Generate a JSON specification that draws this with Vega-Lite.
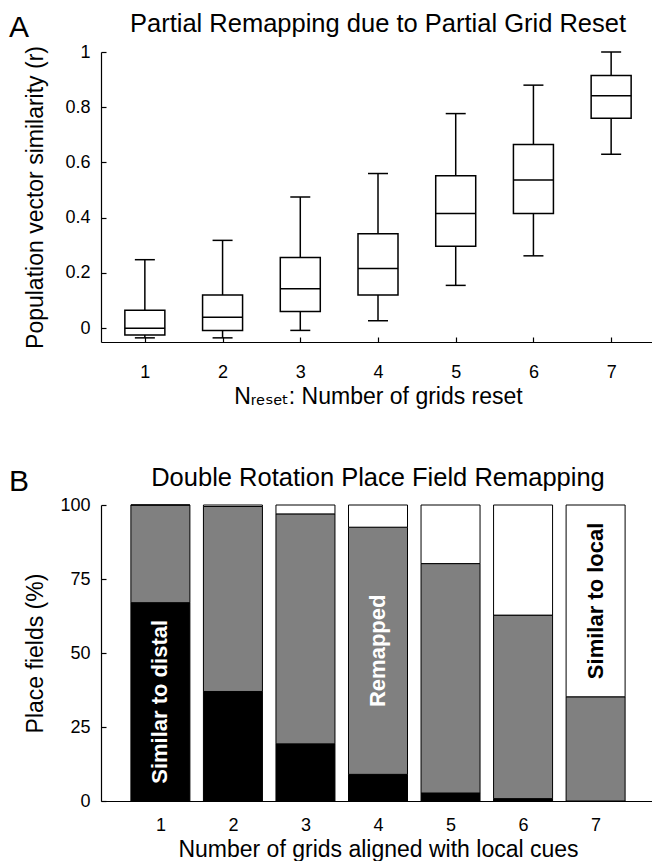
{
  "$schema": "https://vega.github.io/schema/vega-lite/v6.json",
  "padding": {"left": 8, "top": 11, "right": 0, "bottom": 0},
  "config": {
    "font": "Liberation Sans",
    "view": {"stroke": null},
    "axis": {
      "grid": false,
      "domainColor": "black",
      "domainWidth": 1.2,
      "tickColor": "black",
      "tickWidth": 1.2,
      "tickSize": -5,
      "labelColor": "black",
      "labelFont": "Liberation Sans",
      "labelFontSize": 18,
      "titleColor": "black",
      "titleFont": "Liberation Sans, DejaVu Sans",
      "titleFontSize": 23,
      "titleFontWeight": "normal"
    },
    "title": {"font": "Liberation Sans", "fontWeight": "normal", "color": "black", "fontSize": 25.5, "baseline": "bottom"}
  },
  "spacing": 57,
  "datasets": {
    "boxes": [
      {"n": 1, "lower": -0.035, "q1": -0.025, "median": 0.0, "q3": 0.065, "upper": 0.248},
      {"n": 2, "lower": -0.035, "q1": -0.008, "median": 0.04, "q3": 0.12, "upper": 0.318},
      {"n": 3, "lower": -0.008, "q1": 0.06, "median": 0.143, "q3": 0.256, "upper": 0.475},
      {"n": 4, "lower": 0.027, "q1": 0.12, "median": 0.216, "q3": 0.342, "upper": 0.56},
      {"n": 5, "lower": 0.155, "q1": 0.297, "median": 0.415, "q3": 0.552, "upper": 0.777},
      {"n": 6, "lower": 0.262, "q1": 0.415, "median": 0.537, "q3": 0.665, "upper": 0.88},
      {"n": 7, "lower": 0.63, "q1": 0.76, "median": 0.842, "q3": 0.915, "upper": 1.0}
    ],
    "bars": [
      {"n": 1, "outcome": "distal", "seg": 1, "pct": 67, "label": "Similar to distal"},
      {"n": 1, "outcome": "remapped", "seg": 2, "pct": 33, "label": ""},
      {"n": 1, "outcome": "local", "seg": 3, "pct": 0, "label": ""},
      {"n": 2, "outcome": "distal", "seg": 1, "pct": 37, "label": ""},
      {"n": 2, "outcome": "remapped", "seg": 2, "pct": 62.5, "label": ""},
      {"n": 2, "outcome": "local", "seg": 3, "pct": 0.5, "label": ""},
      {"n": 3, "outcome": "distal", "seg": 1, "pct": 19.3, "label": ""},
      {"n": 3, "outcome": "remapped", "seg": 2, "pct": 77.7, "label": ""},
      {"n": 3, "outcome": "local", "seg": 3, "pct": 3, "label": ""},
      {"n": 4, "outcome": "distal", "seg": 1, "pct": 9, "label": ""},
      {"n": 4, "outcome": "remapped", "seg": 2, "pct": 83.5, "label": "Remapped"},
      {"n": 4, "outcome": "local", "seg": 3, "pct": 7.5, "label": ""},
      {"n": 5, "outcome": "distal", "seg": 1, "pct": 2.7, "label": ""},
      {"n": 5, "outcome": "remapped", "seg": 2, "pct": 77.5, "label": ""},
      {"n": 5, "outcome": "local", "seg": 3, "pct": 19.8, "label": ""},
      {"n": 6, "outcome": "distal", "seg": 1, "pct": 0.8, "label": ""},
      {"n": 6, "outcome": "remapped", "seg": 2, "pct": 62, "label": ""},
      {"n": 6, "outcome": "local", "seg": 3, "pct": 37.2, "label": ""},
      {"n": 7, "outcome": "distal", "seg": 1, "pct": 0, "label": ""},
      {"n": 7, "outcome": "remapped", "seg": 2, "pct": 35.2, "label": ""},
      {"n": 7, "outcome": "local", "seg": 3, "pct": 64.8, "label": "Similar to local"}
    ]
  },
  "vconcat": [
    {
      "title": {"text": "A", "anchor": "start", "frame": "bounds", "fontSize": 30, "dx": -16, "dy": 35},
      "vconcat": [
        {
          "width": 554,
          "height": 290,
          "title": {"text": "Partial Remapping due to Partial Grid Reset", "offset": 6},
          "data": {"name": "boxes"},
          "encoding": {
            "x": {
              "field": "n", "type": "quantitative",
              "scale": {"domain": [0.5, 7.5], "nice": false, "zero": false},
              "axis": {"values": [1, 2, 3, 4, 5, 6, 7], "format": "d", "labelPadding": 26, "title": "Nᵣₑₛₑₜ: Number of grids reset", "titlePadding": 4}
            }
          },
          "layer": [
            {
              "mark": {"type": "rule", "color": "black", "strokeWidth": 1.5},
              "encoding": {
                "y": {"field": "lower", "type": "quantitative", "scale": {"domain": [-0.05, 1], "nice": false, "zero": false},
                      "axis": {"values": [0, 0.2, 0.4, 0.6, 0.8, 1], "format": "~g", "labelPadding": 16, "title": "Population vector similarity (r)", "titlePadding": 17}},
                "y2": {"field": "q1"}
              }
            },
            {
              "mark": {"type": "rule", "color": "black", "strokeWidth": 1.5},
              "encoding": {
                "y": {"field": "q3", "type": "quantitative", "scale": {"domain": [-0.05, 1], "nice": false, "zero": false},
                      "axis": {"values": [0, 0.2, 0.4, 0.6, 0.8, 1], "format": "~g", "labelPadding": 16, "title": "Population vector similarity (r)", "titlePadding": 17}},
                "y2": {"field": "upper"}
              }
            },
            {
              "mark": {"type": "tick", "orient": "horizontal", "size": 20, "thickness": 1.5, "color": "black", "opacity": 1},
              "encoding": {
                "y": {"field": "lower", "type": "quantitative", "scale": {"domain": [-0.05, 1], "nice": false, "zero": false},
                      "axis": {"values": [0, 0.2, 0.4, 0.6, 0.8, 1], "format": "~g", "labelPadding": 16, "title": "Population vector similarity (r)", "titlePadding": 17}}
              }
            },
            {
              "mark": {"type": "tick", "orient": "horizontal", "size": 20, "thickness": 1.5, "color": "black", "opacity": 1},
              "encoding": {
                "y": {"field": "upper", "type": "quantitative", "scale": {"domain": [-0.05, 1], "nice": false, "zero": false},
                      "axis": {"values": [0, 0.2, 0.4, 0.6, 0.8, 1], "format": "~g", "labelPadding": 16, "title": "Population vector similarity (r)", "titlePadding": 17}}
              }
            },
            {
              "mark": {"type": "bar", "size": 40, "fill": "white", "stroke": "black", "strokeWidth": 1.5},
              "encoding": {
                "y": {"field": "q1", "type": "quantitative", "scale": {"domain": [-0.05, 1], "nice": false, "zero": false},
                      "axis": {"values": [0, 0.2, 0.4, 0.6, 0.8, 1], "format": "~g", "labelPadding": 16, "title": "Population vector similarity (r)", "titlePadding": 17}},
                "y2": {"field": "q3"}
              }
            },
            {
              "mark": {"type": "tick", "orient": "horizontal", "size": 40, "thickness": 1.5, "color": "black", "opacity": 1},
              "encoding": {
                "y": {"field": "median", "type": "quantitative", "scale": {"domain": [-0.05, 1], "nice": false, "zero": false},
                      "axis": {"values": [0, 0.2, 0.4, 0.6, 0.8, 1], "format": "~g", "labelPadding": 16, "title": "Population vector similarity (r)", "titlePadding": 17}}
              }
            }
          ]
        }
      ]
    },
    {
      "title": {"text": "B", "anchor": "start", "frame": "bounds", "fontSize": 30, "dx": -16, "dy": 35},
      "vconcat": [
        {
          "width": 554,
          "height": 296,
          "title": {"text": "Double Rotation Place Field Remapping", "offset": 5},
          "data": {"name": "bars"},
          "encoding": {
            "x": {
              "field": "n", "type": "quantitative",
              "scale": {"domain": [0.25, 7.75], "nice": false, "zero": false},
              "axis": {"values": [1, 2, 3, 4, 5, 6, 7], "format": "d", "ticks": false, "labelPadding": 15, "title": "Number of grids aligned with local cues", "titlePadding": 4}
            },
            "order": {"field": "seg", "type": "quantitative"}
          },
          "layer": [
            {
              "mark": {"type": "bar", "size": 59, "stroke": "black", "strokeWidth": 1},
              "encoding": {
                "y": {"field": "pct", "type": "quantitative", "stack": "zero", "scale": {"domain": [0, 100], "nice": false},
                      "axis": {"values": [0, 25, 50, 75, 100], "labelPadding": 16, "title": "Place fields (%)", "titlePadding": 12}},
                "fill": {"field": "outcome", "type": "nominal", "scale": {"domain": ["distal", "remapped", "local"], "range": ["#000000", "#808080", "#ffffff"]}, "legend": null}
              }
            },
            {
              "mark": {"type": "text", "angle": 270, "fontSize": 22, "fontWeight": "bold", "font": "Liberation Sans", "align": "center", "baseline": "middle"},
              "encoding": {
                "y": {"field": "pct", "type": "quantitative", "stack": "zero", "bandPosition": 0.5, "scale": {"domain": [0, 100], "nice": false},
                      "axis": {"values": [0, 25, 50, 75, 100], "labelPadding": 16, "title": "Place fields (%)", "titlePadding": 12}},
                "text": {"field": "label", "type": "nominal"},
                "color": {"field": "outcome", "type": "nominal", "scale": {"domain": ["distal", "remapped", "local"], "range": ["#ffffff", "#ffffff", "#000000"]}, "legend": null}
              }
            }
          ]
        }
      ]
    }
  ]
}
